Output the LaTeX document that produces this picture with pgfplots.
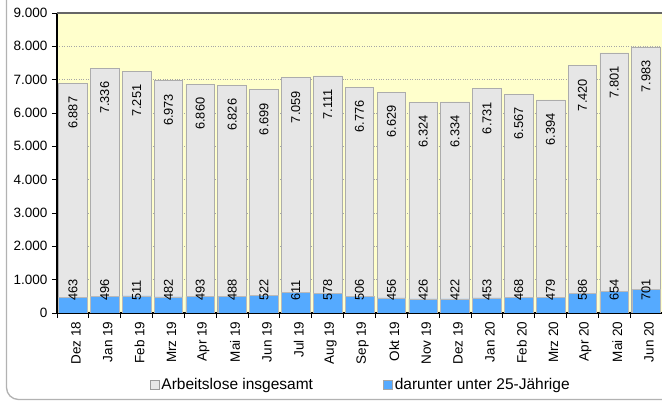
\documentclass[border=0pt]{standalone}
\usepackage{pgfplots}
\pgfplotsset{compat=1.18}
\usepackage{pgfplotstable}
\usepackage{fontspec}
\setmainfont{Liberation Sans}
\definecolor{barblue}{RGB}{85,170,255}
\definecolor{bggray}{RGB}{230,230,230}
\definecolor{bgyellow}{RGB}{255,255,204}
\pgfplotstableread{
x total young
0 6887 463
1 7336 496
2 7251 511
3 6973 482
4 6860 493
5 6826 488
6 6699 522
7 7059 611
8 7111 578
9 6776 506
10 6629 456
11 6324 426
12 6334 422
13 6731 453
14 6567 468
15 6394 479
16 7420 586
17 7801 654
18 7983 701
}\datatable
\begin{document}
\begin{tikzpicture}[x=1pt,y=1pt]
\useasboundingbox (0,0) rectangle (662,401);
\fill[white] (0,0) rectangle (662,401);
\draw[gray!60, line width=1.3pt, rounded corners=12pt] (6.5,1.5) rectangle (720,460);
\pgfkeys{/pgf/number format/.cd, 1000 sep={.}, assume math mode=true}
\begin{axis}[
  at={(57pt,88pt)}, anchor=south west,
  scale only axis, width=605pt, height=300pt,
  xmin=-0.5, xmax=18.5, ymin=0, ymax=9000,
  axis x line*=bottom, axis y line*=left,
  axis line style={black, line width=1.4pt},
  axis background/.style={fill=bgyellow},
  scaled y ticks=false,
  ytick={0,1000,...,9000},
  ymajorgrids, major grid style={gray!70, dotted, line width=0.5pt},
  xtick={0,...,18},
  xticklabels={Dez 18,Jan 19,Feb 19,Mrz 19,Apr 19,Mai 19,Jun 19,Jul 19,Aug 19,Sep 19,Okt 19,Nov 19,Dez 19,Jan 20,Feb 20,Mrz 20,Apr 20,Mai 20,Jun 20},
  minor xtick={-0.5,0.5,...,18.5},
  tick align=outside,
  major tick length=5pt, minor tick length=5pt,
  x tick style={draw=none},
  minor x tick style={draw=black, line width=0.8pt},
  y tick style={black, line width=0.8pt},
  xticklabel style={rotate=90, anchor=east, font=\fontsize{13.5}{15}\selectfont, yshift=-3pt},
  yticklabel style={font=\fontsize{13.5}{15}\selectfont, xshift=-1pt},
  legend style={at={(axis description cs:0.153,-0.24)}, anchor=west, draw=none, fill=none, inner sep=0pt,
     font=\fontsize{15.5}{17}\selectfont, legend columns=2,
     /tikz/every even column/.append style={column sep=68pt}},
  legend cell align=left,
  after end axis/.code={\draw[gray!80!black, line width=2pt] (rel axis cs:0,1) -- (rel axis cs:1.05,1);},
]
\addplot[ybar, bar width=28.6pt, bar shift=0pt, fill=bggray, draw=gray!65, line width=0.7pt,
  nodes near coords,
  every node near coord/.style={rotate=90, anchor=east, inner sep=0pt, xshift=-13pt, font=\fontsize{12.8}{14}\selectfont, black},
  legend image code/.code={\draw[fill=bggray, draw=gray!80, line width=0.7pt] (0pt,-4.5pt) rectangle (9pt,4.5pt);}]
  table[x=x, y=total] {\datatable};
\addlegendentry{Arbeitslose insgesamt}
\addplot[ybar, bar width=28.6pt, bar shift=0pt, fill=barblue, draw=gray!55, line width=0.5pt,
  legend image code/.code={\draw[fill=barblue, draw=gray!70, line width=0.7pt] (0pt,-4.5pt) rectangle (9pt,4.5pt);}]
  table[x=x, y=young] {\datatable};
\addlegendentry{darunter unter 25-Jährige}
\addplot[draw=none, mark=none, forget plot,
  nodes near coords, point meta=explicit,
  every node near coord/.style={rotate=90, anchor=west, inner sep=0pt, font=\fontsize{12.8}{14}\selectfont, black}]
  table[x=x, y expr=360, meta=young] {\datatable};
\end{axis}
\end{tikzpicture}
\end{document}
